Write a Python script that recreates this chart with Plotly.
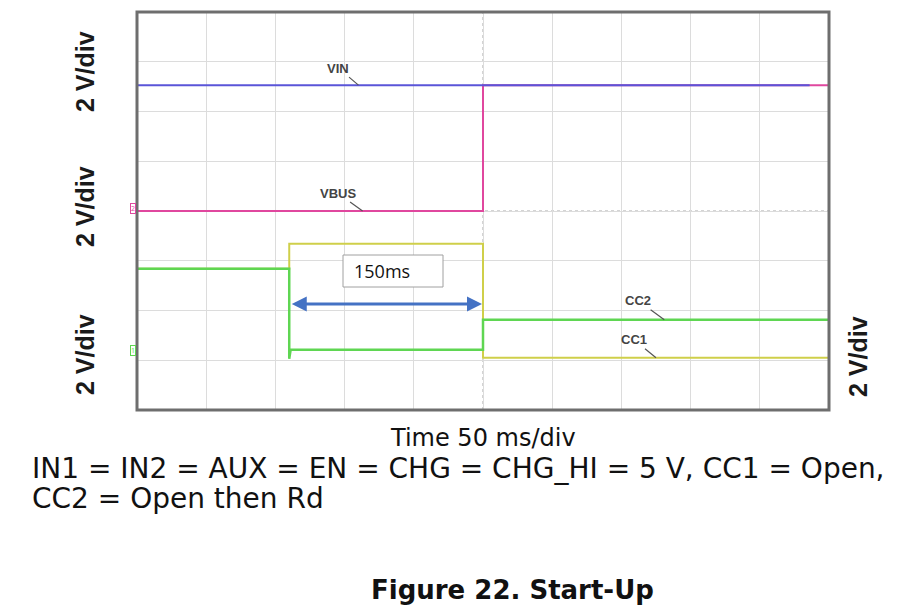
import plotly.graph_objects as go

# ---- data (time in ms, voltage in V) ----
vin_t = [0, 486]
vin_v = [5.06, 5.06]

vbus_t = [0, 250, 250, 500]
vbus_v = [0.0, 0.0, 5.06, 5.06]

cc2_t = [0, 110, 110, 111, 111, 250, 250, 500]
cc2_v = [3.62, 3.62, 0.0, 0.3, 0.36, 0.36, 1.57, 1.57]

cc1_t = [0, 110, 110, 250, 250, 500]
cc1_v = [3.62, 3.62, 4.62, 4.62, 0.04, 0.04]

# channel ground offsets in divisions, 2 V/div
VBUS_GND = 0.0
CC_GND = -2.97
V_PER_DIV = 2.0

def to_div(vals, gnd):
    return [gnd + v / V_PER_DIV for v in vals]

fig = go.Figure()

fig.add_trace(go.Scatter(x=vbus_t, y=to_div(vbus_v, VBUS_GND), mode="lines",
                         line=dict(color="#e0479e", width=2), hoverinfo="skip"))
fig.add_trace(go.Scatter(x=vin_t, y=to_div(vin_v, VBUS_GND), mode="lines",
                         line=dict(color="#5a55d8", width=2), hoverinfo="skip"))
fig.add_trace(go.Scatter(x=cc1_t, y=to_div(cc1_v, CC_GND), mode="lines",
                         line=dict(color="#cfcf4a", width=2), hoverinfo="skip"))
fig.add_trace(go.Scatter(x=cc2_t, y=to_div(cc2_v, CC_GND), mode="lines",
                         line=dict(color="#5fd652", width=2.5), hoverinfo="skip"))

OFF = 8  # page body margin
W, H = 916 - OFF, 612 - OFF
L, R, T, B = 137, 829, 12, 410
pw, ph = R - L, B - T

def px(x):
    return (x - L) / pw

def py(y):
    return (B - y) / ph

shapes = [
    dict(type="line", xref="x", yref="paper", x0=250, x1=250, y0=0, y1=1,
         line=dict(color="#a8a8a8", width=1, dash="dot"), layer="below"),
    dict(type="line", xref="paper", yref="y", x0=0, x1=1, y0=0, y1=0,
         line=dict(color="#a8a8a8", width=1, dash="dot"), layer="below"),
    dict(type="rect", xref="paper", yref="paper", x0=0, x1=1, y0=0, y1=1,
         line=dict(color="#6e6e6e", width=3)),
    dict(type="rect", xref="paper", yref="paper", x0=px(343), x1=px(443),
         y0=py(287), y1=py(255), fillcolor="white",
         line=dict(color="#a0a0a0", width=1)),
]

ann = []
lbl_font = dict(family="Liberation Sans", size=13, color="#444444")
for text, tx, gnd, yval, ax, ay in [
    ("<b>VIN</b>", 160, VBUS_GND, vin_v[-1], -20, -17),
    ("<b>VBUS</b>", 163, VBUS_GND, vbus_v[0], -25, -18),
    ("<b>CC2</b>", 381, CC_GND, cc2_v[-1], -26, -19),
    ("<b>CC1</b>", 375, CC_GND, cc1_v[-1], -22, -18),
]:
    ann.append(dict(x=tx, y=gnd + yval / V_PER_DIV, xref="x", yref="y", text=text,
                    showarrow=True, arrowhead=0, arrowwidth=1.2,
                    arrowcolor="#555555", ax=ax, ay=ay, font=lbl_font, standoff=0))

ann.append(dict(x=250, y=-1.87, ax=110, ay=-1.87, xref="x", yref="y",
                axref="x", ayref="y", text="", showarrow=True,
                arrowhead=2, arrowside="end+start", arrowsize=1,
                arrowwidth=3, arrowcolor="#4472c4", standoff=1, startstandoff=1))
ann.append(dict(x=px(352), y=py(271), xref="paper", yref="paper", text="150ms",
                showarrow=False, xanchor="left", yanchor="middle",
                font=dict(family="Open Sans", size=18, color="#111111")))

vdiv_font = dict(family="Liberation Sans", size=25, color="#1a1a1a")
for xx, yy in [(85, 72), (85, 207), (85, 355), (858, 357)]:
    ann.append(dict(x=px(xx), y=py(yy), xref="paper", yref="paper",
                    text="<b>2 V/div</b>", textangle=-90, showarrow=False,
                    xanchor="center", yanchor="middle", font=vdiv_font))

ann.append(dict(x=px(130), y=py(208), xref="paper", yref="paper", text="2",
                showarrow=False, font=dict(size=7, color="#e0479e"),
                bordercolor="#e0479e", borderwidth=1, borderpad=0))
ann.append(dict(x=px(130), y=py(356), xref="paper", yref="paper", text="1",
                showarrow=False, font=dict(size=7, color="#5fd652"),
                bordercolor="#5fd652", borderwidth=1, borderpad=0))

ann.append(dict(x=px(483), y=py(438), xref="paper", yref="paper",
                text="Time 50 ms/div", showarrow=False, xanchor="center",
                yanchor="middle", font=dict(family="DejaVu Sans", size=24, color="#111")))
ann.append(dict(x=px(30), y=py(468), xref="paper", yref="paper",
                text="IN1 = IN2 = AUX = EN = CHG = CHG_HI = 5 V, CC1 = Open,",
                showarrow=False, xanchor="left", yanchor="middle",
                font=dict(family="DejaVu Sans", size=28, color="#111")))
ann.append(dict(x=px(30), y=py(498), xref="paper", yref="paper",
                text="CC2 = Open then Rd",
                showarrow=False, xanchor="left", yanchor="middle",
                font=dict(family="DejaVu Sans", size=28, color="#111")))
ann.append(dict(x=px(512), y=py(590), xref="paper", yref="paper",
                text="<b>Figure 22. Start-Up</b>",
                showarrow=False, xanchor="center", yanchor="middle",
                font=dict(family="DejaVu Sans", size=26, color="#111")))

fig.update_layout(
    width=W, height=H,
    margin=dict(l=L - OFF, r=916 - R, t=T - OFF, b=612 - B),
    paper_bgcolor="white", plot_bgcolor="white",
    showlegend=False,
    shapes=shapes, annotations=ann,
    xaxis=dict(range=[0, 500], dtick=50, tick0=0, showticklabels=False,
               showgrid=True, gridcolor="#dcdcdc", gridwidth=1, zeroline=False,
               ticks="", fixedrange=True),
    yaxis=dict(range=[-4, 4], dtick=1, tick0=0, showticklabels=False,
               showgrid=True, gridcolor="#dcdcdc", gridwidth=1, zeroline=False,
               ticks="", fixedrange=True),
)

fig.write_html("out.html")
